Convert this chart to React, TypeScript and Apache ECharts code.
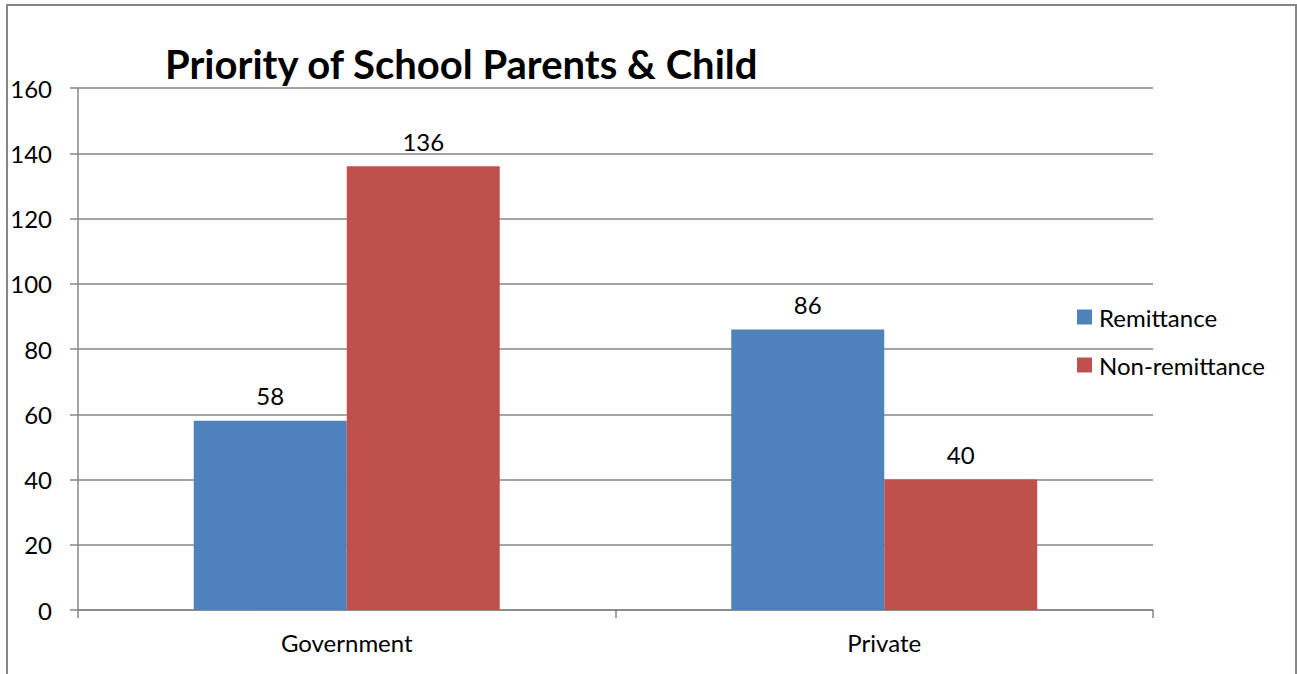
import React, { useEffect, useRef } from "react";
import * as echarts from "echarts";

const categories = ["Government", "Private"];
const remittance = [58, 86];
const nonRemittance = [136, 40];
const seriesNames = ["Remittance", "Non-remittance"];
const titleText = "Priority of School Parents & Child";

const FONT = "Lato, 'Open Sans', sans-serif";

export default function App() {
  const ref = useRef<HTMLDivElement>(null);
  useEffect(() => {
    if (!ref.current) return;
    const chart = echarts.init(ref.current, undefined, { renderer: "svg" });
    const gridColor = "#868686";
    chart.setOption({
      animation: false,
      backgroundColor: "#ffffff",
      textStyle: { fontFamily: FONT },
      title: {
        text: titleText,
        left: 165,
        top: 40,
        padding: 0,
        textStyle: { fontSize: 40, fontWeight: "bold", color: "#000", fontFamily: FONT, lineHeight: 48 },
      },
      graphic: [
        {
          type: "rect",
          shape: { x: 7, y: 5, width: 1289, height: 720 },
          style: { fill: "none", stroke: gridColor, lineWidth: 2 },
          silent: true,
        },
      ],
      legend: {
        orient: "vertical",
        left: 1077,
        top: 303,
        padding: 0,
        itemWidth: 15,
        itemHeight: 15,
        itemGap: 20,
        icon: "rect",
        textStyle: { fontSize: 24, color: "#000", fontFamily: FONT, lineHeight: 28, padding: [0, 0, 0, 2] },
        data: seriesNames,
      },
      grid: { left: 78, right: 144, top: 88, bottom: 64, containLabel: false },
      xAxis: {
        type: "category",
        data: categories,
        axisLine: { show: true, lineStyle: { color: gridColor, width: 1.5 } },
        axisTick: { show: true, length: 8, alignWithLabel: false, lineStyle: { color: gridColor, width: 1.5 } },
        axisLabel: { fontSize: 24, color: "#000", margin: 20, fontFamily: FONT },
        splitLine: { show: false },
      },
      yAxis: {
        type: "value",
        min: 0,
        max: 160,
        interval: 20,
        axisLine: { show: true, lineStyle: { color: gridColor, width: 1.5 } },
        axisTick: { show: true, length: 8, lineStyle: { color: gridColor, width: 1.5 } },
        axisLabel: { fontSize: 24, color: "#000", margin: 26, fontFamily: FONT },
        splitLine: { show: true, lineStyle: { color: gridColor, width: 1.5 } },
      },
      series: [
        {
          name: seriesNames[0],
          type: "bar",
          data: remittance,
          barWidth: 153,
          barGap: "0%",
          itemStyle: { color: "#4F81BD" },
          label: { show: true, position: "top", distance: 13, fontSize: 24, color: "#000", fontFamily: FONT },
        },
        {
          name: seriesNames[1],
          type: "bar",
          data: nonRemittance,
          barWidth: 153,
          barGap: "0%",
          itemStyle: { color: "#C0504D" },
          label: { show: true, position: "top", distance: 13, fontSize: 24, color: "#000", fontFamily: FONT },
        },
      ],
    });
    return () => chart.dispose();
  }, []);
  return (
    <div
      ref={ref}
      style={{ position: "fixed", left: 0, top: 0, width: 1297, height: 674 }}
    />
  );
}
